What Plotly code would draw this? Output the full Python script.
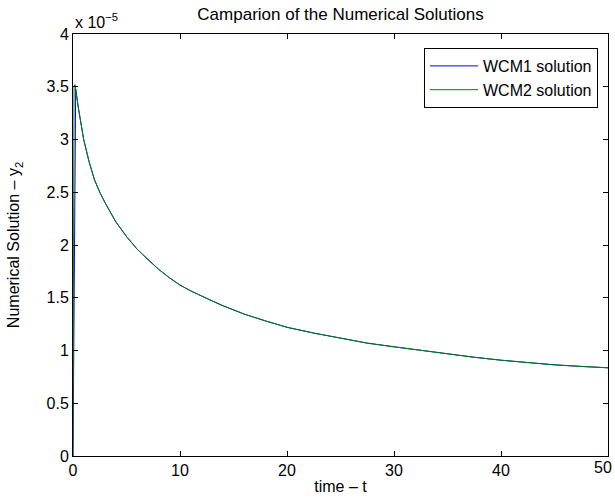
import plotly.graph_objects as go

# time values and solutions (in units of 1e-5)
t_wcm1 = [0, 0.25, 0.5, 1, 1.5, 2, 2.5, 3, 4, 5, 6, 7, 8, 9, 10, 11, 12, 13, 14, 15, 16, 18, 20,
          22.5, 25, 27.5, 30, 32.5, 35, 37.5, 40, 42.5, 45, 47.5, 50]
y_wcm1 = [0, 3.48, 3.30, 3.00, 2.79, 2.62, 2.50, 2.40, 2.22, 2.08, 1.96, 1.86, 1.77, 1.69, 1.62,
          1.565, 1.515, 1.47, 1.425, 1.385, 1.345, 1.28, 1.22, 1.165, 1.115, 1.07, 1.035, 1.0,
          0.968, 0.936, 0.908, 0.884, 0.864, 0.849, 0.836]
t_wcm2 = [0, 0.1, 0.19, 0.5, 1, 1.5, 2, 2.5, 3, 4, 5, 6, 7, 8, 9, 10, 11, 12, 13, 14, 15, 16, 18, 20,
          22.5, 25, 27.5, 30, 32.5, 35, 37.5, 40, 42.5, 45, 47.5, 50]
y_wcm2 = [0, 3.50, 3.52, 3.30, 3.00, 2.79, 2.62, 2.50, 2.40, 2.22, 2.08, 1.96, 1.86, 1.77, 1.69, 1.62,
          1.565, 1.515, 1.47, 1.425, 1.385, 1.345, 1.28, 1.22, 1.165, 1.115, 1.07, 1.035, 1.0,
          0.968, 0.936, 0.908, 0.884, 0.864, 0.849, 0.836]

x_ticks = [0, 10, 20, 30, 40, 50]
x_tick_labels = ["0", "10", "20", "30", "40", "50"]
y_ticks = [0, 0.5, 1, 1.5, 2, 2.5, 3, 3.5, 4]
y_tick_labels = ["0", "0.5", "1", "1.5", "2", "2.5", "3", "3.5", "4"]

FONT = "Liberation Sans, Arial, Helvetica, sans-serif"

fig = go.Figure()
fig.add_trace(go.Scatter(x=t_wcm1, y=y_wcm1, mode="lines", name="WCM1 solution",
                         line=dict(color="#0000ff", width=1)))
fig.add_trace(go.Scatter(x=t_wcm2, y=y_wcm2, mode="lines", name="WCM2 solution",
                         line=dict(color="#008000", width=1)))

axis_common = dict(showgrid=False, zeroline=False, showline=True, linecolor="black",
                   linewidth=1, mirror="ticks", ticks="inside", ticklen=5,
                   tickcolor="black", automargin=False,
                   tickfont=dict(size=16, color="black", family=FONT))

# last x tick label is drawn as an annotation so it stays inside the page edge
x_shown = x_tick_labels[:-1] + [""]

fig.update_layout(
    width=615, height=499,
    margin=dict(l=73, r=7, t=34, b=43),
    paper_bgcolor="white", plot_bgcolor="white",
    font=dict(family=FONT, color="black"),
    title=dict(text="Camparion of the Numerical Solutions", x=(73 + 608) / 2 / 615,
               xanchor="center", y=1 - 14 / 499, yanchor="middle",
               font=dict(size=17, color="black", family=FONT)),
    xaxis=dict(range=[0, 50], tickvals=x_ticks, ticktext=x_shown,
               title=dict(text="time – t", font=dict(size=16, family=FONT), standoff=2),
               **axis_common),
    yaxis=dict(range=[0, 4], tickvals=y_ticks, ticktext=y_tick_labels,
               title=dict(text="Numerical Solution – y<sub>2</sub>", font=dict(size=16, family=FONT),
                          standoff=22),
               **axis_common),
    legend=dict(x=(598 - 73) / 535, y=(456 - 48) / 422, xanchor="right", yanchor="top",
                bgcolor="white", bordercolor="black", borderwidth=1,
                font=dict(size=16, family=FONT, color="black"),
                tracegroupgap=0, itemwidth=48),
    showlegend=True,
)

fig.add_annotation(text=x_tick_labels[-1], xref="x", yref="paper",
                   x=x_ticks[-1], y=0, xanchor="right", yanchor="top", xshift=6, yshift=-1,
                   showarrow=False, font=dict(size=16, family=FONT, color="black"))

fig.add_annotation(text="x 10<sup>−5</sup>", xref="paper", yref="paper",
                   x=0, y=1, xanchor="left", yanchor="bottom", yshift=1,
                   showarrow=False, font=dict(size=16, family=FONT, color="black"))

fig.write_html("out.html", config={"displayModeBar": False},
               post_script="document.body.style.margin='0px';document.body.style.overflow='hidden';")
